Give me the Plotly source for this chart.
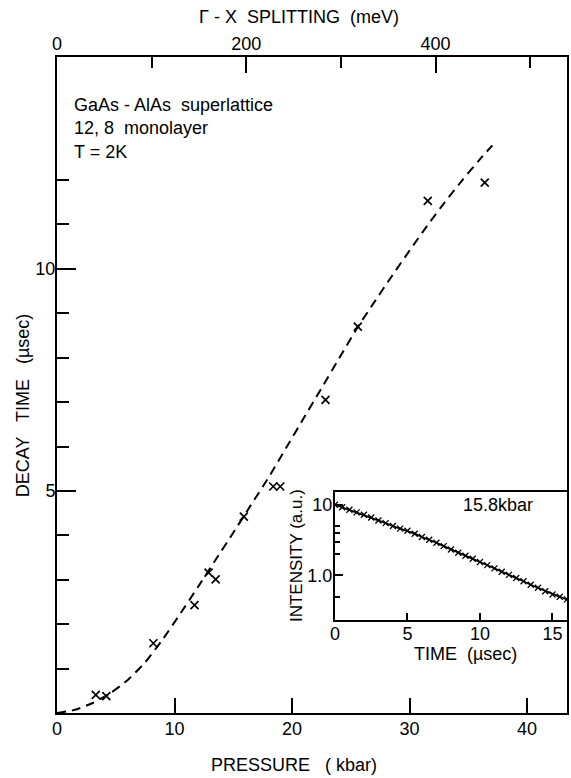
import plotly.graph_objects as go

# ---------------- data ----------------
# main: decay time vs pressure (measured points)
pressure_kbar = [3.3, 4.2, 8.2, 11.7, 12.9, 13.5, 15.9, 18.4, 19.0, 22.85, 25.6, 31.55, 36.4]
decay_us = [0.41, 0.38, 1.57, 2.43, 3.16, 3.01, 4.42, 5.10, 5.10, 7.05, 8.70, 11.53, 11.94]

# dashed theory curve
curve_p = [0, 1.5, 3.0, 4.5, 6.0, 7.5, 9.0, 10.5, 12.0, 13.5, 15.0, 16.5, 18.0, 19.5, 21.0,
           22.5, 24.0, 25.5, 27.0, 28.5, 30.0, 31.5, 33.0, 34.5, 36.0, 37.05]
curve_tau = [0, 0.07, 0.22, 0.44, 0.74, 1.14, 1.66, 2.24, 2.84, 3.45, 4.06, 4.68, 5.30, 5.97, 6.64,
             7.31, 7.98, 8.65, 9.25, 9.84, 10.41, 10.97, 11.50, 12.00, 12.47, 12.78]

# inset: decay trace at 15.8 kbar
inset_t = [0, 0.5, 1, 1.5, 2, 2.5, 3, 3.5, 4, 4.5, 5, 5.5, 6, 6.5, 7, 7.5, 8, 8.5,
           9, 9.5, 10, 10.5, 11, 11.5, 12, 12.5, 13, 13.5, 14, 14.5, 15, 15.5, 16]
inset_I = [10.0, 9.2, 8.5, 7.8, 7.2, 6.6, 6.0, 5.5, 5.0, 4.6, 4.3, 3.9, 3.5, 3.2, 2.9, 2.6, 2.33, 2.1,
           1.9, 1.72, 1.55, 1.40, 1.26, 1.13, 1.02, 0.92, 0.83, 0.74, 0.67, 0.60, 0.54, 0.50, 0.46]

x_ticks = [0, 10, 20, 30, 40]
y_major = [5, 10]
y_minor = [1, 2, 3, 4, 6, 7, 8, 9, 11, 12]
top_major = [0, 200, 400]
top_minor = [100, 300, 500]
inset_xticks = [0, 5, 10, 15]
inset_ymajor = [1, 10]
inset_ylabels = ["1.0", "10"]
inset_yminor = [0.5, 2, 3, 4, 5]

FONT = "Liberation Sans"
W, H = 571, 778
L, R, T, B = 57, 2, 57, 65
PW, PH = W - L - R, H - T - B


def px(x):
    return (x - L) / PW


def py(y):
    return (H - B - y) / PH


fig = go.Figure()

fig.add_trace(go.Scatter(x=curve_p, y=curve_tau, mode="lines",
                         line=dict(color="black", width=2, dash="9px,6px", shape="spline", smoothing=0.6),
                         hoverinfo="skip", showlegend=False))
fig.add_trace(go.Scatter(x=pressure_kbar, y=decay_us, mode="markers",
                         marker=dict(symbol="x-thin", size=8, line=dict(color="black", width=1.7)),
                         showlegend=False))
# top axis carrier (no marks)
fig.add_trace(go.Scatter(x=[], y=[], xaxis="x2", yaxis="y", mode="markers", showlegend=False))

# inset
fig.add_trace(go.Scatter(x=inset_t, y=inset_I, xaxis="x3", yaxis="y3", mode="lines+markers",
                         line=dict(color="black", width=1.8),
                         marker=dict(symbol="x-thin", size=6, line=dict(color="black", width=1.3)),
                         showlegend=False))

axis_common = dict(showgrid=False, zeroline=False, showline=True, linecolor="black", linewidth=2,
                   ticks="inside", tickcolor="black", tickwidth=2,
                   tickfont=dict(family=FONT, size=18, color="black"))

fig.update_layout(
    width=W, height=H,
    margin=dict(l=L, r=R, t=T, b=B),
    paper_bgcolor="white", plot_bgcolor="white",
    xaxis=dict(**axis_common, range=[0, 43.4], tickmode="array", tickvals=x_ticks, ticklen=15,
               mirror=True, ticklabelstandoff=-2),
    xaxis2=dict(**axis_common, overlaying="x", side="top", range=[0, 538.9], tickmode="array",
                tickvals=top_major, ticklen=16, ticklabelstandoff=-2,
                minor=dict(tickmode="array", tickvals=top_minor, ticklen=11, ticks="inside",
                           tickcolor="black", tickwidth=2)),
    yaxis=dict(**axis_common, range=[0, 14.77], tickmode="array", tickvals=y_major, ticklen=19,
               mirror=True, ticklabelstandoff=-4,
               minor=dict(tickmode="array", tickvals=y_minor, ticklen=12, ticks="inside",
                          tickcolor="black", tickwidth=2)),
    xaxis3=dict(**axis_common, domain=[px(336), 1.0], anchor="y3", range=[0, 16], tickmode="array",
                tickvals=inset_xticks, ticklen=7, mirror=True, ticklabelstandoff=-4),
    yaxis3=dict(**axis_common, domain=[py(620), py(492)], anchor="x3", type="log",
                range=[-0.629, 1.18], tickmode="array", tickvals=inset_ymajor, ticktext=inset_ylabels,
                ticklen=8, mirror=True, ticklabelstandoff=-3,
                minor=dict(tickmode="array", tickvals=inset_yminor, ticklen=5, ticks="inside",
                           tickcolor="black", tickwidth=2)),
)

tf = dict(family=FONT, size=18, color="black")
ann = [
    dict(text="Γ - X  SPLITTING  (meV)", x=px(300), y=py(17)),
    dict(text="PRESSURE   ( kbar)", x=px(295), y=py(765)),
    dict(text="DECAY   TIME   (µsec)", x=px(23), y=py(406), textangle=-90),
    dict(text="GaAs - AlAs  superlattice", x=px(72), y=py(105), xanchor="left"),
    dict(text="12, 8  monolayer", x=px(72), y=py(128), xanchor="left"),
    dict(text="T = 2K", x=px(72), y=py(152), xanchor="left"),
    dict(text="15.8kbar", x=px(500), y=py(505)),
    dict(text="TIME  (µsec)", x=px(467), y=py(654)),
    dict(text="INTENSITY (a.u.)", x=px(297), y=py(556), textangle=-90,
         font=dict(family=FONT, size=17, color="black")),
]
for a in ann:
    base = dict(xref="paper", yref="paper", showarrow=False, font=tf, xanchor="center", yanchor="middle")
    base.update(a)
    fig.add_annotation(**base)

fig.write_html("out.html")
